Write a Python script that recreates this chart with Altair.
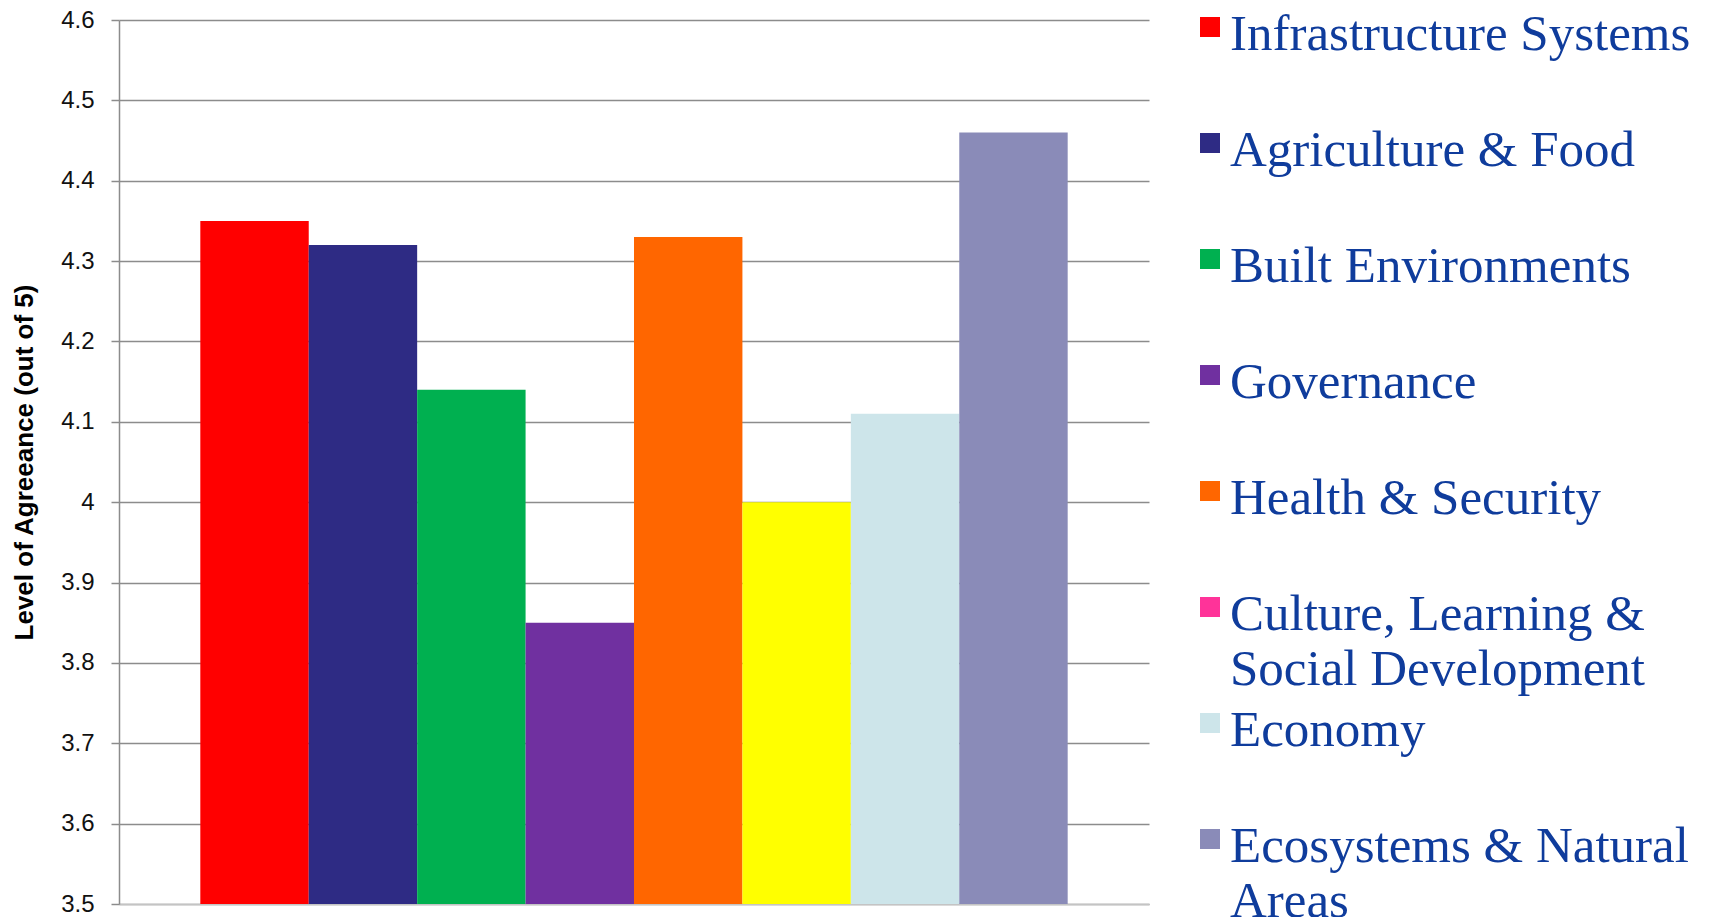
import altair as alt
import pandas as pd

categories = [
    "Infrastructure Systems",
    "Agriculture & Food",
    "Built Environments",
    "Governance",
    "Health & Security",
    "Culture, Learning & Social Development",
    "Economy",
    "Ecosystems & Natural Areas",
]
values = [4.35, 4.32, 4.14, 3.85, 4.33, 4.00, 4.11, 4.46]
bar_colors = ["#FF0000", "#2E2B84", "#00B050", "#7030A0", "#FF6600", "#FFFF00", "#CDE5EA", "#8A8BB8"]
legend_colors = ["#FF0000", "#2E2B84", "#00B050", "#7030A0", "#FF6600", "#FF3399", "#CDE5EA", "#8A8BB8"]
legend_labels = [
    "Infrastructure Systems",
    "Agriculture & Food",
    "Built Environments",
    "Governance",
    "Health & Security",
    "Culture, Learning &\nSocial Development",
    "Economy",
    "Ecosystems & Natural\nAreas",
]
y_ticks = [3.5, 3.6, 3.7, 3.8, 3.9, 4.0, 4.1, 4.2, 4.3, 4.4, 4.5, 4.6]

W, H = 1030, 884
SLOT = 116

bars_df = pd.DataFrame({"cat": categories, "val": values})
leg_df = pd.DataFrame({"slot": list(range(len(legend_labels))), "label": legend_labels, "lcolor": legend_colors})

bars = alt.Chart(bars_df).mark_bar().encode(
    x=alt.X("cat:N", sort=categories,
            scale=alt.Scale(paddingInner=0, paddingOuter=0.75),
            axis=alt.Axis(labels=False, ticks=False, title=None, domainColor="#c4c4c4", domainWidth=1.5)),
    y=alt.Y("val:Q",
            scale=alt.Scale(domain=[3.5, 4.6], zero=False, nice=False, clamp=True),
            axis=alt.Axis(values=y_ticks, format=".1~f", title="Level of Agreeance (out of 5)",
                          grid=True, gridColor="#8c8c8c", gridWidth=1.5,
                          domainColor="#8c8c8c", domainWidth=1.5,
                          tickColor="#8c8c8c", tickWidth=1.5, tickSize=8,
                          labelFont="Liberation Sans", labelFontSize=24, labelColor="#111111",
                          labelPadding=17,
                          titleFont="Liberation Sans", titleFontSize=26, titleFontWeight="bold",
                          titleColor="#000000", titlePadding=23)),
    y2=alt.datum(3.5),
    color=alt.Color("cat:N", scale=alt.Scale(domain=categories, range=bar_colors), legend=None),
)

leg_y = alt.Y("slot:Q", scale=alt.Scale(domain=[0, H / SLOT], reverse=True, nice=False, zero=False), axis=None)

leg_sq = alt.Chart(leg_df).mark_square(size=400, filled=True, opacity=1, yOffset=7).encode(
    x=alt.value(W + 61),
    y=leg_y,
    color=alt.Color("lcolor:N", scale=None),
)

leg_txt = alt.Chart(leg_df).mark_text(
    align="left", baseline="alphabetic", dy=30, lineBreak="\n", lineHeight=55,
    font="Liberation Serif", fontSize=51, color="#0F3C9C",
).encode(
    x=alt.value(W + 81),
    y=leg_y,
    text="label:N",
)

chart = alt.layer(bars, leg_sq, leg_txt).resolve_scale(
    y="independent", color="independent"
).properties(
    width=W, height=H,
    padding={"left": 3, "top": 0, "right": 0, "bottom": 0},
    background="white",
).configure_view(stroke=None)

chart.save("out.html", embed_options={"renderer": "svg", "actions": False})
